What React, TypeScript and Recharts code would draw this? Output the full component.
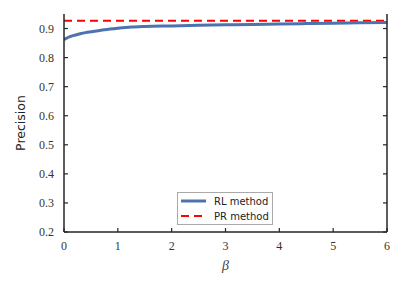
import React from 'react';
import { LineChart, Line, XAxis, YAxis } from 'recharts';

const betaValues = [0, 0.05, 0.1, 0.2, 0.3, 0.4, 0.5, 0.75, 1, 1.25, 1.5, 2, 2.5, 3, 3.5, 4, 4.5, 5, 5.5, 6];
const rlPrecision = [0.862, 0.867, 0.871, 0.877, 0.882, 0.886, 0.889, 0.896, 0.901, 0.905, 0.907, 0.909, 0.911, 0.913, 0.914, 0.916, 0.917, 0.918, 0.920, 0.921];
const prBeta = [0, 6];
const prPrecision = [0.927, 0.927];
const xTicks = [0, 1, 2, 3, 4, 5, 6];
const yTicks = [0.2, 0.3, 0.4, 0.5, 0.6, 0.7, 0.8, 0.9];

const rlData = betaValues.map((b, i) => ({ beta: b, rl: rlPrecision[i] }));
const prData = prBeta.map((b, i) => ({ beta: b, pr: prPrecision[i] }));

const AXIS = '#262626';
const SERIF = '"Liberation Serif", "DejaVu Serif", serif';
const SANS = '"DejaVu Sans", sans-serif';

const BottomTick = (props: any) => {
  const { x, y, payload } = props;
  return (
    <g>
      <line x1={x} y1={y} x2={x} y2={y - 4} stroke={AXIS} strokeWidth={1.2} />
      <text x={x} y={y + 18} textAnchor="middle" fontFamily={SERIF} fontSize={12} fill="#333">
        {payload.value}
      </text>
    </g>
  );
};
const TopTick = (props: any) => {
  const { x, y } = props;
  return <line x1={x} y1={y} x2={x} y2={y + 4} stroke={AXIS} strokeWidth={1.2} />;
};
const LeftTick = (props: any) => {
  const { x, y, payload } = props;
  return (
    <g>
      <line x1={x} y1={y} x2={x + 4} y2={y} stroke={AXIS} strokeWidth={1.2} />
      <text x={x - 10} y={y + 4} textAnchor="end" fontFamily={SERIF} fontSize={12} fill="#333">
        {Number(payload.value).toFixed(1)}
      </text>
    </g>
  );
};
const RightTick = (props: any) => {
  const { x, y } = props;
  return <line x1={x} y1={y} x2={x - 4} y2={y} stroke={AXIS} strokeWidth={1.2} />;
};

export default function App() {
  return (
    <div style={{ position: 'absolute', left: 0, top: 0, width: 405, height: 292, background: '#fff' }}>
      <LineChart width={405} height={292} margin={{ top: 14, right: 0, bottom: 0, left: 0 }}>
        <XAxis
          dataKey="beta"
          type="number"
          domain={[0, 6]}
          ticks={xTicks}
          height={60}
          tickSize={0}
          tickMargin={0}
          tickLine={false}
          axisLine={{ stroke: AXIS, strokeWidth: 1.5 }}
          tick={<BottomTick />}
          allowDataOverflow
          label={{ value: 'β', position: 'insideTop', offset: 28, fontFamily: SERIF, fontStyle: 'italic', fontSize: 14, fill: '#444' }}
        />
        <XAxis
          xAxisId="top"
          orientation="top"
          dataKey="beta"
          type="number"
          domain={[0, 6]}
          ticks={xTicks}
          height={0}
          tickSize={0}
          tickMargin={0}
          tickLine={false}
          axisLine={{ stroke: AXIS, strokeWidth: 1.5 }}
          tick={<TopTick />}
          allowDataOverflow
        />
        <YAxis
          type="number"
          domain={[0.2, 0.95]}
          ticks={yTicks}
          width={64}
          tickSize={0}
          tickMargin={0}
          tickLine={false}
          axisLine={{ stroke: AXIS, strokeWidth: 1.5 }}
          tick={<LeftTick />}
          allowDataOverflow
          label={{ value: 'Precision', angle: -90, position: 'insideLeft', offset: 21, fontFamily: SANS, fontSize: 12.5, fill: '#222', style: { textAnchor: 'middle' } }}
        />
        <YAxis
          yAxisId="right"
          orientation="right"
          type="number"
          domain={[0.2, 0.95]}
          ticks={yTicks}
          width={18}
          tickSize={0}
          tickMargin={0}
          tickLine={false}
          axisLine={{ stroke: AXIS, strokeWidth: 1.5 }}
          tick={<RightTick />}
          allowDataOverflow
        />
        <Line
          data={prData}
          dataKey="pr"
          stroke="#ff0000"
          strokeWidth={2}
          strokeDasharray="8 5"
          dot={false}
          isAnimationActive={false}
        />
        <Line
          data={rlData}
          dataKey="rl"
          stroke="#4c72b0"
          strokeWidth={3}
          type="monotone"
          dot={false}
          isAnimationActive={false}
        />
      </LineChart>
      <div
        style={{
          position: 'absolute',
          left: 177,
          top: 192,
          width: 96,
          height: 33,
          border: '1px solid #aaa',
          background: '#fff',
          boxSizing: 'border-box',
          fontFamily: SANS,
          fontSize: 10,
          color: '#222',
        }}
      >
        <svg width={96} height={33} style={{ position: 'absolute', left: -1, top: -1 }}>
          <line x1={4} y1={9} x2={29} y2={9} stroke="#4c72b0" strokeWidth={3} />
          <line x1={4} y1={24} x2={29} y2={24} stroke="#ff0000" strokeWidth={2} strokeDasharray="8 5" />
          <text x={37} y={12.5} fontFamily={SANS} fontSize={10} fill="#222">RL method</text>
          <text x={37} y={27.5} fontFamily={SANS} fontSize={10} fill="#222">PR method</text>
        </svg>
      </div>
    </div>
  );
}
